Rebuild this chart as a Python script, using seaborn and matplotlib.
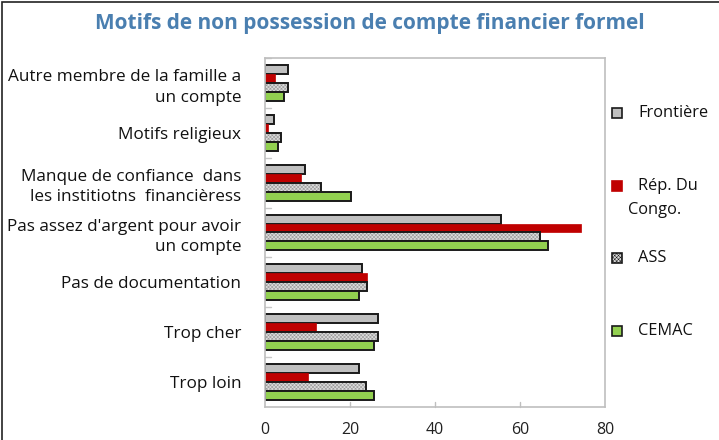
import matplotlib
matplotlib.use("Agg")
import matplotlib.pyplot as plt
from matplotlib.patches import Rectangle
import seaborn as sns
import pandas as pd

categories = [
    "Autre membre de la famille a\nun compte",
    "Motifs religieux",
    "Manque de confiance  dans\nles institiotns  financièress",
    "Pas assez d'argent pour avoir\nun compte",
    "Pas de documentation",
    "Trop cher",
    "Trop loin",
]
series = ["Frontière", "Rép. Du Congo.", "ASS", "CEMAC"]
frontiere = [5.4, 2.1, 9.5, 55.6, 22.8, 26.7, 22.2]
congo = [2.3, 0.6, 8.5, 74.4, 23.9, 11.9, 10.0]
ass = [5.4, 3.8, 13.2, 64.6, 24.0, 26.7, 23.7]
cemac = [4.5, 3.1, 20.3, 66.5, 22.2, 25.7, 25.7]
xticks = [0, 20, 40, 60, 80]

rows = []
for name, vals in zip(series, [frontiere, congo, ass, cemac]):
    for c, v in zip(categories, vals):
        rows.append({"cat": c, "serie": name, "val": v})
df = pd.DataFrame(rows)

sns.set_theme(style="white")
plt.rcParams["font.family"] = ["Open Sans", "DejaVu Sans"]
plt.rcParams["hatch.color"] = "#909090"
plt.rcParams["hatch.linewidth"] = 0.35

fig = plt.figure(figsize=(7.19, 4.40), dpi=100)
ax = fig.add_axes([265/719, 1-407/440, 340/719, 349/440])

face = {"Frontière": "#c0c0c0", "Rép. Du Congo.": "#c00000", "ASS": "#dadada", "CEMAC": "#92d050"}
sns.barplot(data=df, y="cat", x="val", hue="serie", order=categories, hue_order=series,
            orient="h", width=0.72, ax=ax, legend=False, palette=face, saturation=1)

HATCH = "xxxxxxxxx"
for cont, name in zip(ax.containers, series):
    for p in cont:
        p.set_facecolor(face[name])
        if name == "Rép. Du Congo.":
            p.set_edgecolor(face[name])
            p.set_linewidth(0.5)
        else:
            p.set_edgecolor("#1a1a1a")
            p.set_linewidth(1.4)
        if name == "ASS":
            p.set_hatch(HATCH)
            p._hatch_color = matplotlib.colors.to_rgba("#909090")

ax.set_xlim(0, 80)
ax.set_ylim(len(categories) - 0.5, -0.5)
ax.set_xticks(xticks)
ax.set_xticklabels([str(t) for t in xticks], fontsize=11.5, color="#222222")
ax.set_ylabel("")
ax.set_xlabel("")
ax.set_yticks(range(len(categories)))
ax.set_yticklabels(categories, fontsize=12.3, color="#111111", linespacing=1.4)
ax.tick_params(axis="y", length=0, pad=17)
ax.tick_params(axis="x", length=0, pad=11)
for s in ax.spines.values():
    s.set_color("#bfbfbf")
    s.set_linewidth(1.2)
# interior tick marks
for t in xticks[1:-1]:
    ax.plot([t, t], [len(categories) - 0.5, len(categories) - 0.5 - 0.1], color="#bfbfbf", lw=1, clip_on=False)
for k in range(len(categories)):
    ax.plot([0, 1.3], [k - 0.5, k - 0.5], color="#c8c8c8", lw=1, clip_on=False)

fig.text(370/719, 1 - 23/440, "Motifs de non possession de compte financier formel",
         ha="center", va="center", fontsize=15, fontweight="bold", color="#4a7fb0",
         family=["Open Sans", "DejaVu Sans"])

# legend
leg_y = [113, 186, 258, 331]
for name, y in zip(series, leg_y):
    ec = "#c00000" if name == "Rép. Du Congo." else "#1a1a1a"
    r = Rectangle((612/719, 1 - (y + 5)/440), 10/719, 10/440, transform=fig.transFigure,
                  facecolor=face[name], edgecolor=ec, lw=1.2,
                  hatch=HATCH if name == "ASS" else None)
    fig.patches.append(r)
fs = 11.8
fig.text(638/719, 1 - 113/440, "Frontière", fontsize=fs, va="center", color="#111111")
fig.text(638/719, 1 - 186/440, "Rép. Du", fontsize=fs, va="center", color="#111111")
fig.text(628/719, 1 - 210/440, "Congo.", fontsize=fs, va="center", color="#111111")
fig.text(638/719, 1 - 258/440, "ASS", fontsize=fs, va="center", color="#111111")
fig.text(638/719, 1 - 331/440, "CEMAC", fontsize=fs, va="center", color="#111111")

fig.patches.append(Rectangle((2/719, -0.01), 1.2, 1 - 2/440 + 0.01, transform=fig.transFigure,
                             fill=False, edgecolor="#222222", lw=1.2))

fig.savefig("out.png", dpi=100)
